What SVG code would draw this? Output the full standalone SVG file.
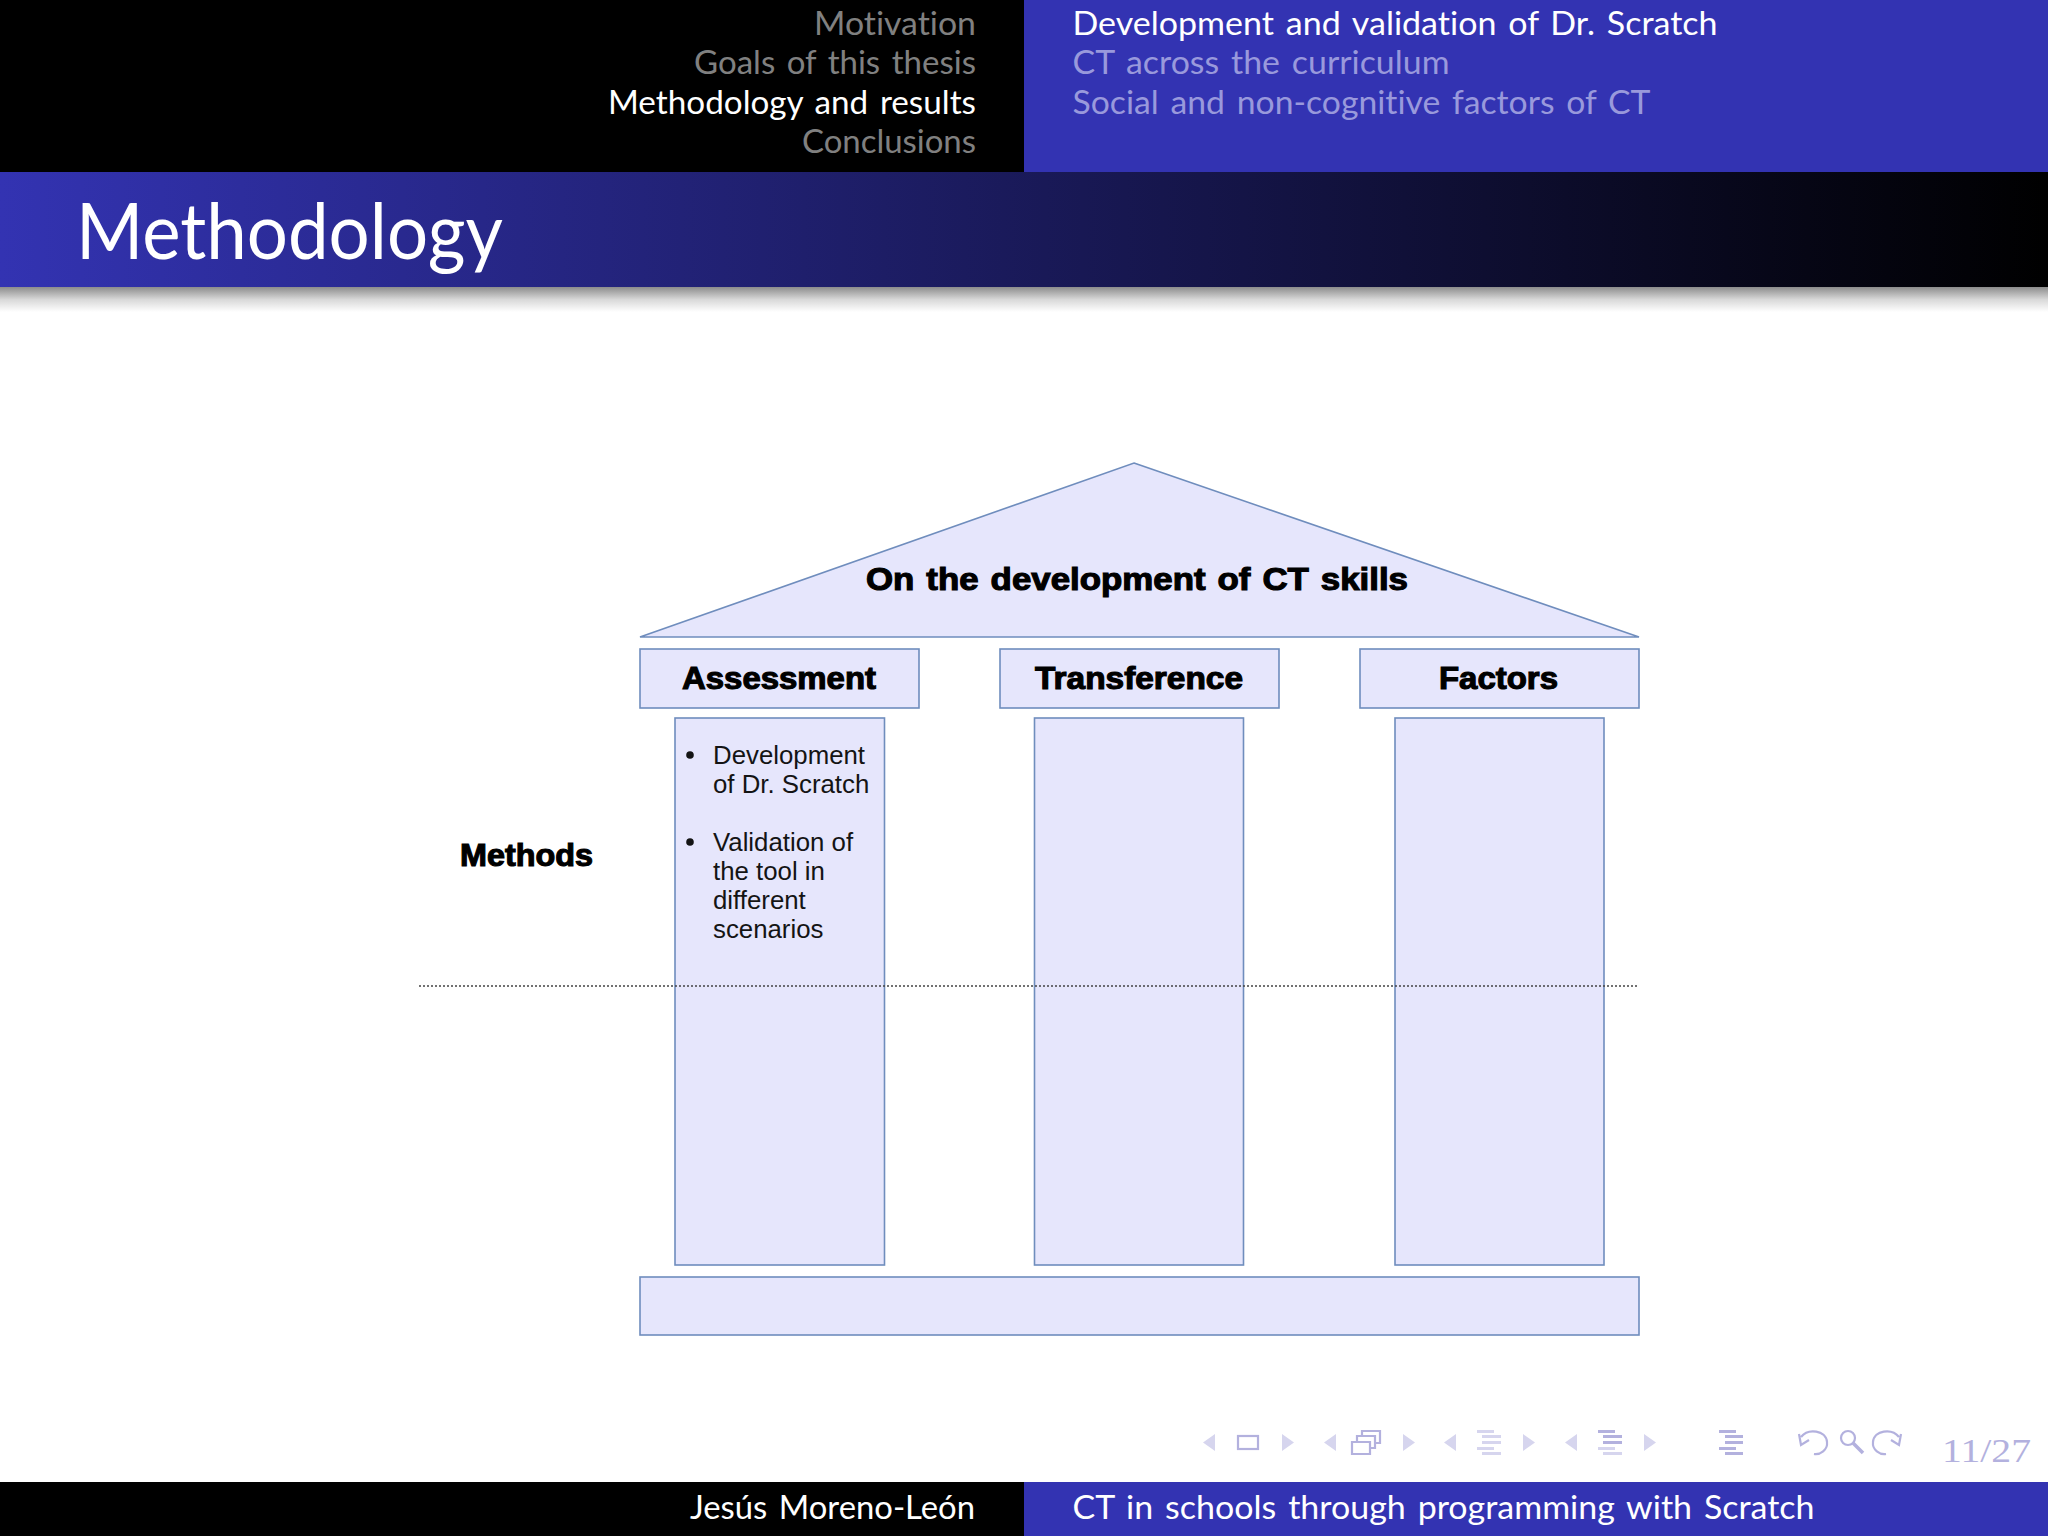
<svg xmlns="http://www.w3.org/2000/svg" width="2048" height="1536" viewBox="0 0 2048 1536">
<style>
.cm{font-family:"Lato","Open Sans","Liberation Sans",sans-serif;font-size:32px;fill:#fff;word-spacing:3px;font-variant-ligatures:none}
.dim{fill:#808080}
.dimb{fill:#9999dc}
.box{fill:#e6e6fc;stroke:#6f8dbd;stroke-width:1.6}
.hd{font-family:"Liberation Sans",Arial,sans-serif;font-weight:700;font-size:30.5px;fill:#000;stroke:#000;stroke-width:1.1;word-spacing:2px}
.bd{font-family:"Liberation Sans",Arial,sans-serif;font-size:25.8px;fill:#141414}
.nav{fill:#b3b1de}
.navd{fill:#d6d5ee}
.navl{fill:none;stroke:#b3b1de;stroke-width:2.2}
</style>
<defs>
<linearGradient id="band" x1="0" x2="1" y1="0" y2="0"><stop offset="0" stop-color="#3333b2"/><stop offset="1" stop-color="#000"/></linearGradient>
<linearGradient id="shadow" x1="0" x2="0" y1="0" y2="1"><stop offset="0" stop-color="#8c8c8c"/><stop offset=".5" stop-color="#d8d8d8"/><stop offset="1" stop-color="#fff"/></linearGradient>
</defs>
<rect width="2048" height="1536" fill="#fff"/>

<g id="header">
<rect x="0" y="0" width="1024" height="172" fill="#000"/>
<rect x="1024" y="0" width="1024" height="172" fill="#3333b2"/>
<text class="cm dim" x="814" y="35" textLength="162" lengthAdjust="spacingAndGlyphs">Motivation</text>
<text class="cm dim" x="694" y="74" textLength="282" lengthAdjust="spacingAndGlyphs">Goals of this thesis</text>
<text class="cm" x="608" y="114" textLength="368" lengthAdjust="spacingAndGlyphs">Methodology and results</text>
<text class="cm dim" x="802" y="153" textLength="174" lengthAdjust="spacingAndGlyphs">Conclusions</text>
<text class="cm" x="1072.500" y="35" textLength="645" lengthAdjust="spacingAndGlyphs">Development and validation of Dr. Scratch</text>
<text class="cm dimb" x="1072.500" y="74" textLength="377" lengthAdjust="spacingAndGlyphs">CT across the curriculum</text>
<text class="cm dimb" x="1072.500" y="114" textLength="578" lengthAdjust="spacingAndGlyphs">Social and non-cognitive factors of CT</text>
</g>

<g id="title-band">
<rect x="0" y="172" width="2048" height="115" fill="url(#band)"/>
<rect x="0" y="287" width="2048" height="25" fill="url(#shadow)"/>
<text class="cm" x="76" y="259" style="font-size:78px" textLength="427" lengthAdjust="spacingAndGlyphs">Methodology</text>
</g>

<g id="roof">
<polygon class="box" points="1134,463 1639,637 640,637"/>
<text class="hd" x="866" y="590" textLength="542" lengthAdjust="spacingAndGlyphs">On the development of CT skills</text>
</g>
<g id="head-assessment">
<rect class="box" x="640" y="649" width="279" height="59"/>
<text class="hd" x="682" y="689" textLength="194" lengthAdjust="spacingAndGlyphs">Assessment</text>
</g>
<g id="head-transference">
<rect class="box" x="1000" y="649" width="279" height="59"/>
<text class="hd" x="1035" y="689" textLength="208" lengthAdjust="spacingAndGlyphs">Transference</text>
</g>
<g id="head-factors">
<rect class="box" x="1360" y="649" width="279" height="59"/>
<text class="hd" x="1439" y="689" textLength="119" lengthAdjust="spacingAndGlyphs">Factors</text>
</g>
<g id="column-assessment">
<rect class="box" x="675" y="718" width="209.500" height="547"/>
<circle cx="690" cy="755" r="3.800" fill="#141414"/>
<circle cx="690" cy="842" r="3.800" fill="#141414"/>
<text class="bd" x="713" y="764">Development</text>
<text class="bd" x="713" y="793">of Dr. Scratch</text>
<text class="bd" x="713" y="851">Validation of</text>
<text class="bd" x="713" y="880">the tool in</text>
<text class="bd" x="713" y="909">different</text>
<text class="bd" x="713" y="938">scenarios</text>
</g>
<g id="column-transference">
<rect class="box" x="1034.500" y="718" width="209" height="547"/>
</g>
<g id="column-factors">
<rect class="box" x="1395" y="718" width="209" height="547"/>
</g>
<g id="foundation">
<rect class="box" x="640" y="1277" width="999" height="58"/>
</g>
<g id="methods-label">
<text class="hd" x="460" y="865.500" textLength="133" lengthAdjust="spacingAndGlyphs">Methods</text>
</g>

<g id="connectors">
<line x1="419" y1="986" x2="1638" y2="986" stroke="#444" stroke-width="1.5" stroke-dasharray="2 2"/>
</g>

<g id="nav">
<polygon class="navd" points="1215,1434 1215,1451 1203,1442.500"/>
<rect class="navl" x="1238" y="1436" width="20" height="13"/>
<polygon class="navd" points="1282,1434 1282,1451 1294,1442.500"/>
<polygon class="navd" points="1336,1434 1336,1451 1324,1442.500"/>
<path class="navl" d="M1352,1442h18v12h-18z M1357,1442v-6h18v12h-5 M1362,1436v-5h18v12h-5"/>
<polygon class="navd" points="1403,1434 1403,1451 1415,1442.500"/>
<polygon class="navd" points="1456,1434 1456,1451 1444,1442.500"/>
<g class="navd"><rect x="1477" y="1430" width="17" height="3"/><rect x="1482" y="1435" width="19" height="3"/><rect x="1482" y="1441" width="19" height="3"/><rect x="1477" y="1447" width="17" height="3"/><rect x="1482" y="1452" width="19" height="3"/></g>
<polygon class="navd" points="1523,1434 1523,1451 1535,1442.500"/>
<polygon class="navd" points="1577,1434 1577,1451 1565,1442.500"/>
<g class="nav"><rect x="1598" y="1430" width="17" height="3"/><rect x="1603" y="1435" width="19" height="3"/><rect x="1603" y="1441" width="19" height="3"/></g><g class="navd"><rect x="1598" y="1447" width="17" height="3"/><rect x="1603" y="1452" width="19" height="3"/></g>
<polygon class="navd" points="1644,1434 1644,1451 1656,1442.500"/>
<g class="nav"><rect x="1719" y="1430" width="17" height="3"/><rect x="1725" y="1435" width="18" height="3"/><rect x="1725" y="1441" width="18" height="3"/><rect x="1719" y="1447" width="17" height="3"/><rect x="1725" y="1452" width="18" height="3"/></g>
<path class="navl" d="M1801,1437 C1808,1428 1826,1430 1827,1442 C1828,1450 1820,1455 1814,1454 M1799,1434 l2,11 l8,-5"/>
<circle class="navl" cx="1848" cy="1438" r="7"/>
<line class="navl" x1="1853" y1="1443" x2="1863" y2="1453" style="stroke-width:3.500"/>
<path class="navl" d="M1899,1437 C1892,1428 1874,1430 1873,1442 C1872,1450 1880,1455 1886,1454 M1901,1434 l-2,11 l-8,-5"/>
<text x="1942" y="1462" font-family="Liberation Serif,serif" font-size="34" fill="#b3b1de" textLength="89" lengthAdjust="spacingAndGlyphs">11/27</text>
</g>

<g id="footer">
<rect x="0" y="1482" width="1024" height="54" fill="#000"/>
<rect x="1024" y="1482" width="1024" height="54" fill="#3333b2"/>
<text class="cm" x="690" y="1519" textLength="285" lengthAdjust="spacingAndGlyphs">Jesús Moreno-León</text>
<text class="cm" x="1072.500" y="1519" textLength="742" lengthAdjust="spacingAndGlyphs">CT in schools through programming with Scratch</text>
</g>
</svg>
